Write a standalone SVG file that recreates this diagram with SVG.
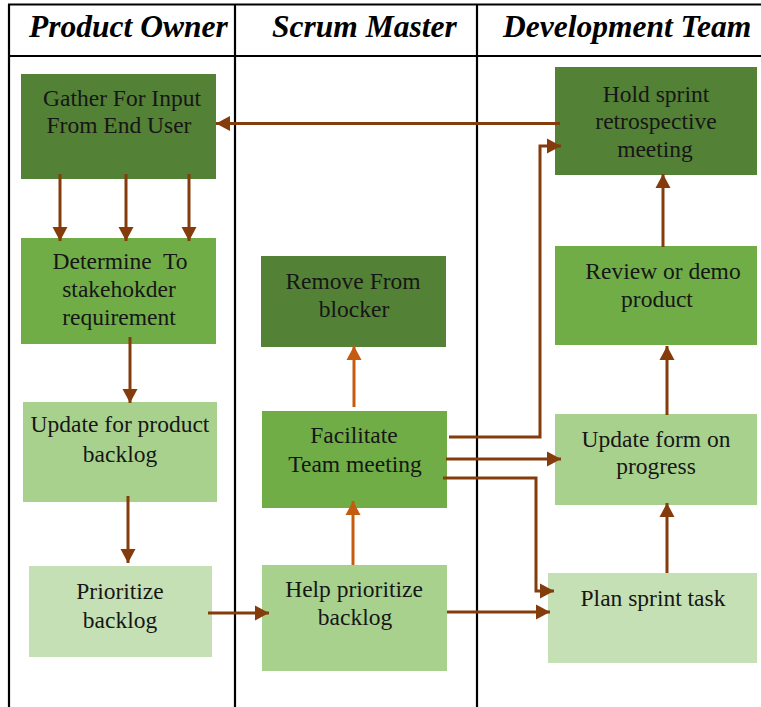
<svg xmlns="http://www.w3.org/2000/svg" width="761" height="707" viewBox="0 0 761 707">
<style>
.hdr{font-family:"Liberation Serif","Times New Roman",serif;font-weight:bold;font-style:italic;font-size:31.5px;fill:#000}
.t{font-family:"Liberation Serif","Times New Roman",serif;font-size:23.5px;fill:#161616;text-anchor:middle}
.grid{stroke:#000;stroke-width:2.2;fill:none}
.c1{fill:#538135}
.c2{fill:#70ad47}
.c3{fill:#a9d18e}
.c4{fill:#c5e0b4}
.br{stroke:#843c0c;stroke-width:3;fill:none;marker-end:url(#ab)}
.or{stroke:#c55a11;stroke-width:3;fill:none;marker-end:url(#ao)}
</style>
<defs>
<marker id="ab" markerUnits="userSpaceOnUse" markerWidth="15" markerHeight="16" refX="14" refY="8" orient="auto" viewBox="0 0 15 16">
<path d="M0,0.5 L14,8 L0,15.5 z" fill="#843c0c"/>
</marker>
<marker id="ao" markerUnits="userSpaceOnUse" markerWidth="15" markerHeight="16" refX="14" refY="8" orient="auto" viewBox="0 0 15 16">
<path d="M0,0.5 L14,8 L0,15.5 z" fill="#c55a11"/>
</marker>
</defs>
<rect width="761" height="707" fill="#fff"/>
<g id="table">
<line class="grid" x1="8" y1="4.5" x2="761" y2="4.5"/>
<line class="grid" x1="8" y1="56" x2="761" y2="56"/>
<line class="grid" x1="9" y1="4.5" x2="9" y2="707"/>
<line class="grid" x1="235" y1="4.5" x2="235" y2="707"/>
<line class="grid" x1="477" y1="4.5" x2="477" y2="707"/>
<text class="hdr" x="29" y="37">Product Owner</text>
<text class="hdr" x="272" y="37">Scrum Master</text>
<text class="hdr" x="503" y="37">Development Team</text>
</g>
<g id="n-gather"><rect class="c1" x="21" y="74" width="195" height="105"/>
<text class="t" x="122" y="106">Gather For Input</text><text class="t" x="119" y="133">From End User</text></g>
<g id="n-determine"><rect class="c2" x="21" y="238" width="195" height="106"/>
<text class="t" x="120" y="269" style="white-space:pre">Determine  To</text><text class="t" x="119" y="297">stakehokder</text><text class="t" x="119" y="325">requirement</text></g>
<g id="n-update-backlog"><rect class="c3" x="23" y="402" width="194" height="100"/>
<text class="t" x="120" y="432">Update for product</text><text class="t" x="120" y="462">backlog</text></g>
<g id="n-prioritize"><rect class="c4" x="29" y="566" width="183" height="91"/>
<text class="t" x="120" y="599">Prioritize</text><text class="t" x="120" y="628">backlog</text></g>
<g id="n-remove"><rect class="c1" x="261" y="256" width="185" height="91"/>
<text class="t" x="353" y="289">Remove From</text><text class="t" x="354" y="317">blocker</text></g>
<g id="n-facilitate"><rect class="c2" x="262" y="411" width="185" height="97"/>
<text class="t" x="354" y="443">Facilitate</text><text class="t" x="355" y="472">Team meeting</text></g>
<g id="n-help"><rect class="c3" x="262" y="565" width="185" height="106"/>
<text class="t" x="354" y="597">Help prioritize</text><text class="t" x="355" y="625">backlog</text></g>
<g id="n-hold"><rect class="c1" x="555" y="67" width="202" height="108"/>
<text class="t" x="656" y="102">Hold sprint</text><text class="t" x="656" y="129">retrospective</text><text class="t" x="655" y="157">meeting</text></g>
<g id="n-review"><rect class="c2" x="555" y="246" width="202" height="99"/>
<text class="t" x="663" y="279">Review or demo</text><text class="t" x="657" y="307">product</text></g>
<g id="n-update-progress"><rect class="c3" x="555" y="414" width="202" height="91"/>
<text class="t" x="656" y="447">Update form on</text><text class="t" x="656" y="474">progress</text></g>
<g id="n-plan"><rect class="c4" x="548" y="573" width="209" height="90"/>
<text class="t" x="653" y="606">Plan sprint task</text></g>
<g id="connectors">
<path class="br" d="M560,123.5 H216"/>
<path class="br" d="M60,174 V241"/>
<path class="br" d="M126,174 V241"/>
<path class="br" d="M189,174 V241"/>
<path class="br" d="M130,337 V403"/>
<path class="br" d="M128,496 V563"/>
<path class="br" d="M208,613 H269"/>
<path class="or" d="M353,565 V501"/>
<path class="or" d="M354,407 V346"/>
<path class="br" d="M449,437 H540 V146 H561"/>
<path class="br" d="M446,459 H561"/>
<path class="br" d="M443,478 H536 V591 H554"/>
<path class="br" d="M447,612 H550"/>
<path class="br" d="M667,573 V503"/>
<path class="br" d="M667,415 V346"/>
<path class="br" d="M663,247 V174"/>
</g>
</svg>
